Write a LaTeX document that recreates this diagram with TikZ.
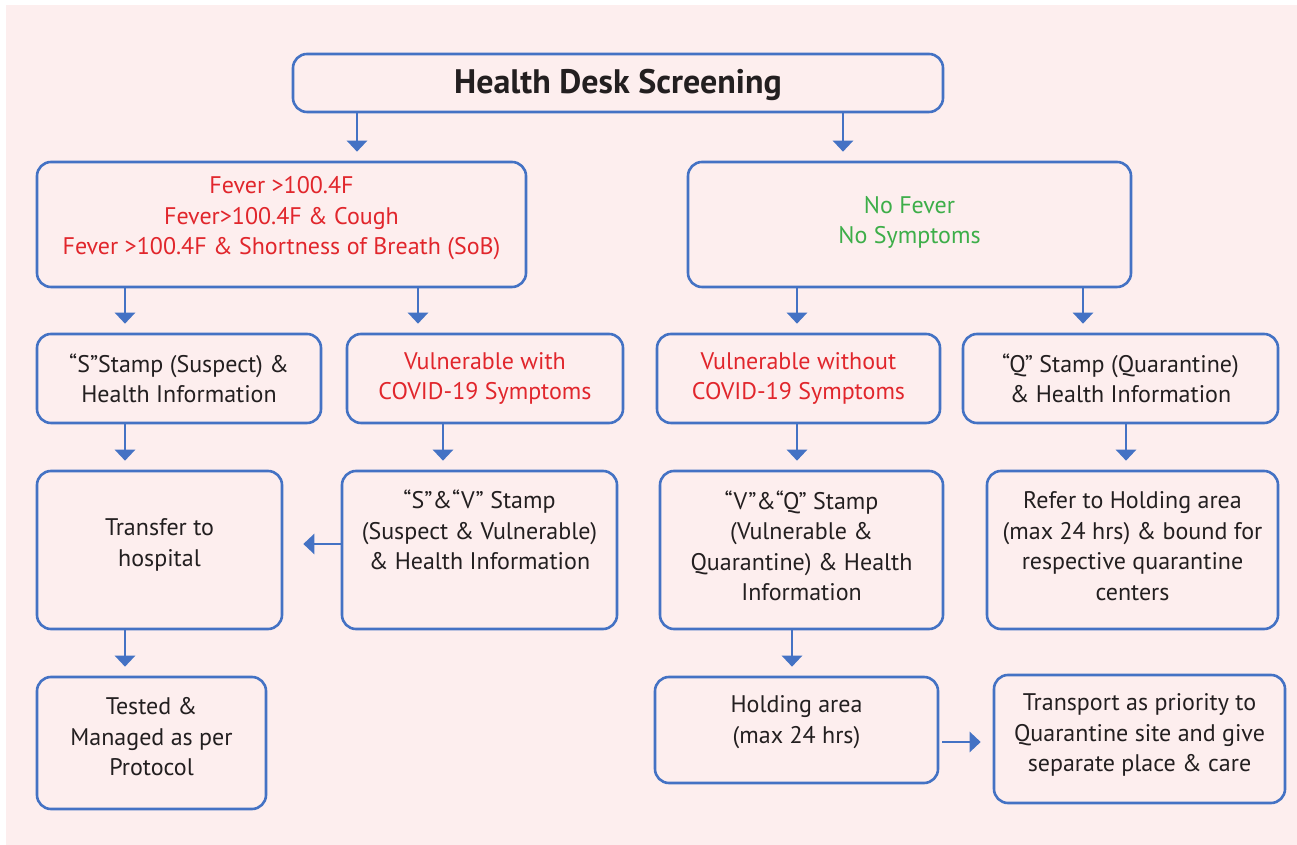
\documentclass[tikz,border=0pt]{standalone}
\usepackage{fontspec}
\setmainfont{PT Sans}
\usetikzlibrary{arrows.meta}

\definecolor{deskblue}{HTML}{4472C4}
\definecolor{deskpink}{HTML}{FDEEEE}
\definecolor{deskred}{HTML}{E1262C}
\definecolor{deskgreen}{HTML}{3DAE49}
\definecolor{deskdark}{HTML}{231F20}

\begin{document}
\begin{tikzpicture}

  \tikzset{
    box/.style={
      draw=deskblue,
      line width=2.6pt,
      rounded corners=14pt,
      inner sep=0pt
    },
    txt/.style={
      align=center,
      text=deskdark,
      font=\fontsize{24}{30.5}\selectfont
    },
    arr/.style={
      draw=deskblue,
      line width=2.6pt,
      -{Triangle[width=20pt,length=11pt]},
      shorten >=9pt
    }
  }

  \useasboundingbox (0,0) rectangle (1297pt,845pt);
  \fill[deskpink] (6pt,0) rectangle (1297pt,840pt);

  \node[box, minimum width=650pt, minimum height=58pt,
    label={[txt, yshift=-2pt, font=\bfseries\fontsize{34}{34}\selectfont]center:Health Desk Screening}] (desk) at (618pt,762pt) {};

  \node[box, minimum width=489pt, minimum height=125pt,
    label={[txt, text=deskred, yshift=6pt]center:{Fever >100.4F\\Fever>100.4F \& Cough\\Fever >100.4F \& Shortness of Breath (SoB)}}] (fever) at (281.5pt,620.5pt) {};
  \node[box, minimum width=443pt, minimum height=125pt,
    label={[txt, text=deskgreen, yshift=2pt]center:{No Fever\\No Symptoms}}] (nofever) at (909.5pt,620.5pt) {};

  \node[box, minimum width=284pt, minimum height=89pt,
    label={[txt]center:{“S”Stamp (Suspect) \&\\Health Information}}] (sstamp) at (179pt,466.5pt) {};
  \node[box, minimum width=276pt, minimum height=89pt,
    label={[txt, text=deskred]center:{Vulnerable with\\COVID-19 Symptoms}}] (vulnwith) at (485pt,466.5pt) {};
  \node[box, minimum width=283pt, minimum height=89pt,
    label={[txt, text=deskred]center:{Vulnerable without\\COVID-19 Symptoms}}] (vulnwo) at (798.5pt,466.5pt) {};
  \node[box, minimum width=315pt, minimum height=89pt,
    label={[txt]center:{“Q” Stamp (Quarantine)\\\& Health Information}}] (qstamp) at (1120.5pt,466.5pt) {};

  \node[box, minimum width=245pt, minimum height=158pt,
    label={[txt, yshift=5pt]center:{Transfer to\\hospital}}] (transfer) at (159.5pt,295pt) {};
  \node[box, minimum width=275pt, minimum height=158pt,
    label={[txt, yshift=20pt]center:{“S”\&“V” Stamp\\(Suspect \& Vulnerable)\\\& Health Information}}] (svstamp) at (479.5pt,295pt) {};
  \node[box, minimum width=283pt, minimum height=158pt,
    label={[txt, yshift=4pt]center:{“V”\&“Q” Stamp\\(Vulnerable \&\\Quarantine) \& Health\\Information}}] (vqstamp) at (801.5pt,295pt) {};
  \node[box, minimum width=291pt, minimum height=158pt,
    label={[txt, yshift=4pt]center:{Refer to Holding area\\(max 24 hrs) \& bound for\\respective quarantine\\centers}}] (refer) at (1132.5pt,295pt) {};

  \node[box, minimum width=229pt, minimum height=132pt,
    label={[txt, yshift=6pt]center:{Tested \&\\Managed as per\\Protocol}}] (tested) at (151.5pt,102pt) {};
  \node[box, minimum width=283pt, minimum height=106pt,
    label={[txt, yshift=8pt]center:{Holding area\\(max 24 hrs)}}] (holding) at (796.5pt,115pt) {};
  \node[box, minimum width=291pt, minimum height=128pt,
    label={[txt, yshift=4pt]center:{Transport as priority to\\Quarantine site and give\\separate place \& care}}] (transport) at (1139.5pt,106pt) {};

  \draw[arr] (357pt,0 |- desk.south) -- (357pt,0 |- fever.north);
  \draw[arr] (843pt,0 |- desk.south) -- (843pt,0 |- nofever.north);
  \draw[arr] (125pt,0 |- fever.south) -- (125pt,0 |- sstamp.north);
  \draw[arr] (418pt,0 |- fever.south) -- (418pt,0 |- vulnwith.north);
  \draw[arr] (797pt,0 |- nofever.south) -- (797pt,0 |- vulnwo.north);
  \draw[arr] (1083pt,0 |- nofever.south) -- (1083pt,0 |- qstamp.north);
  \draw[arr] (125pt,0 |- sstamp.south) -- (125pt,0 |- transfer.north);
  \draw[arr] (443pt,0 |- vulnwith.south) -- (443pt,0 |- svstamp.north);
  \draw[arr] (797pt,0 |- vulnwo.south) -- (797pt,0 |- vqstamp.north);
  \draw[arr] (1126pt,0 |- qstamp.south) -- (1126pt,0 |- refer.north);
  \draw[arr, shorten >=20pt] (svstamp.west |- 0,301pt) -- (transfer.east |- 0,301pt);
  \draw[arr] (125pt,0 |- transfer.south) -- (125pt,0 |- tested.north);
  \draw[arr] (792pt,0 |- vqstamp.south) -- (792pt,0 |- holding.north);
  \draw[arr, shorten <=3pt, shorten >=12pt] (holding.east |- 0,103pt) -- (transport.west |- 0,103pt);

\end{tikzpicture}
\end{document}
